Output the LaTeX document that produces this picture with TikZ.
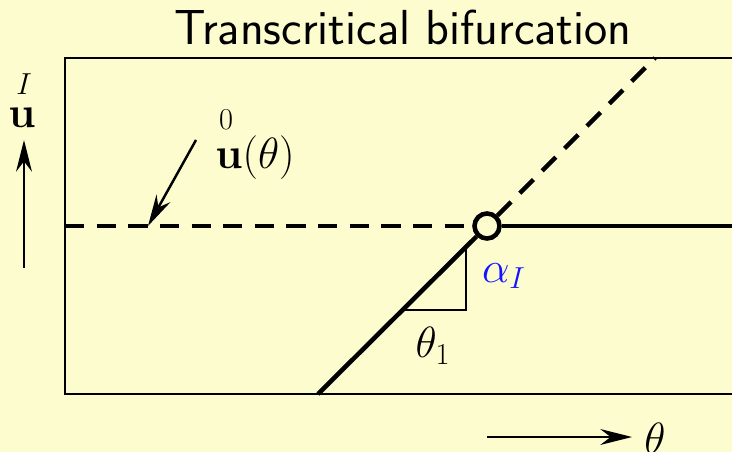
\documentclass[tikz,border=0pt]{standalone}
\usepackage{amsmath}
\usetikzlibrary{arrows.meta}
\definecolor{bg}{RGB}{252,252,206}
\definecolor{lblue}{RGB}{20,20,255}
\begin{document}
\begin{tikzpicture}[x=0.02cm,y=-0.02cm,
  frame/.style={line width=1.2pt},
  branch/.style={line width=2.6pt},
  dashbranch/.style={line width=2.6pt, dash pattern=on 11pt off 7pt},
  axisarrow/.style={line width=1.4pt, -{Stealth[length=18pt,width=9pt]}},
  thin/.style={line width=0.9pt},
  mlabel/.style={inner sep=0pt, font=\fontsize{26}{31}\selectfont},
  slabel/.style={inner sep=0pt, font=\fontsize{18}{22}\selectfont}]
\fill[bg] (0,0) rectangle (732,452);
\useasboundingbox (0,0) rectangle (732,452);
% title
\node[inner sep=0pt, font=\sffamily\fontsize{28}{33}\selectfont] (title) at (403,27) {Transcritical bifurcation};
% frame
\coordinate (tl) at (65,58);
\coordinate (tr) at (732,58);
\coordinate (bl) at (65,394);
\coordinate (br) at (732,394);
\draw[frame] (tr) -- (tl) -- (bl) -- (br);
% bifurcation point
\node[draw, circle, line width=2.6pt, inner sep=0pt, minimum size=0.5cm] (bp) at (487,226) {};
\coordinate (dl) at (65,226);
\coordinate (sr) at (732,226);
\coordinate (db) at (318,394);
\coordinate (du) at (655,58);
\draw[dashbranch] (dl) -- (bp.west);
\draw[branch] (bp.east) -- (sr);
\draw[branch] (db) -- (bp.225);
\draw[dashbranch] (bp.45) -- (du);
% slope triangle
\coordinate (ta) at (403,310);
\coordinate (tb) at (466,310);
\coordinate (tc) at (466,247);
\draw[thin] (ta) -- (tb) -- (tc);
\node[mlabel, text=lblue] (alpha) at (504,276) {$\alpha_I$};
\node[mlabel] (theta1) at (433,346) {$\theta_1$};
% annotation arrow
\node[mlabel] (u0) at (255,158) {$\mathbf{u}(\theta)$};
\node[slabel] (zero) at (226,120) {$0$};
\coordinate (as) at (196,140);
\coordinate (ae) at (148,226);
\draw[axisarrow] (as) -- (ae);
% vertical axis
\coordinate (vs) at (24,268);
\coordinate (ve) at (24,140);
\draw[axisarrow] (vs) -- (ve);
\node[mlabel] (uI) at (22,118) {$\mathbf{u}$};
\node[slabel] (I) at (24,84) {$I$};
% horizontal axis
\coordinate (hs) at (487,437);
\coordinate (he) at (632,437);
\draw[axisarrow] (hs) -- (he);
\node[mlabel] (theta) at (655,438) {$\theta$};
\end{tikzpicture}
\end{document}
